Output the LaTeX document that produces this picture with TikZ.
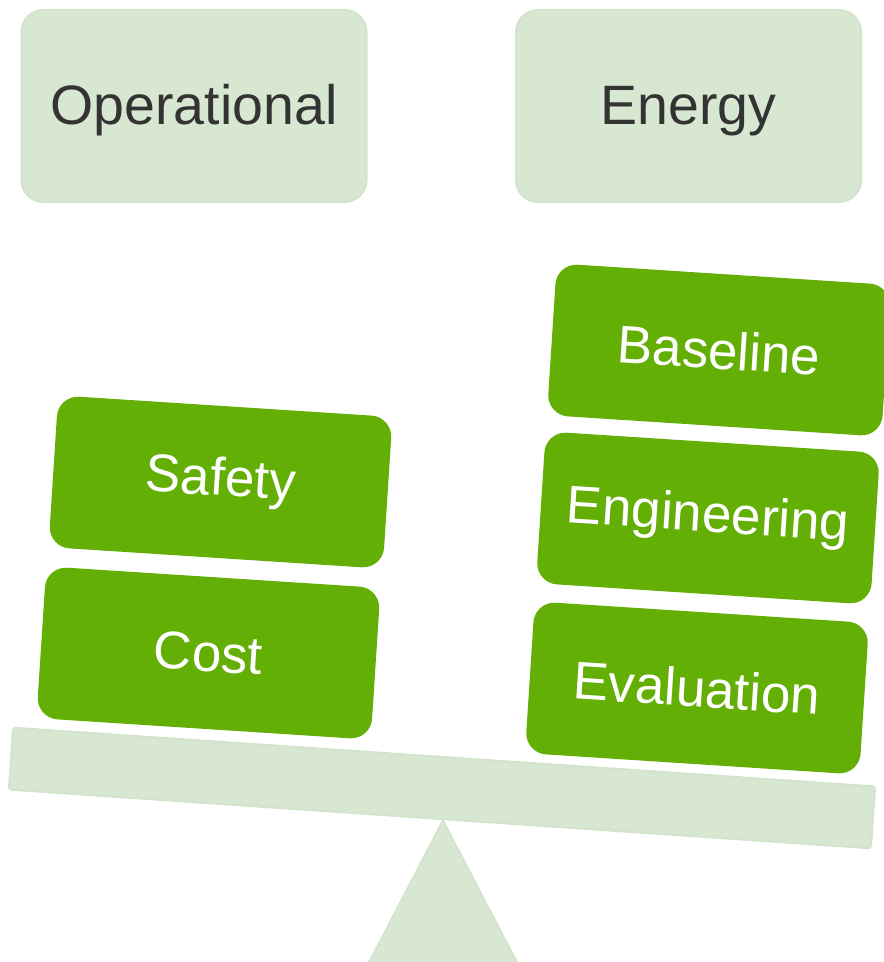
\documentclass[tikz,border=0pt]{standalone}
\usepackage{fontspec}
\setmainfont{Liberation Sans}
\definecolor{palegreen}{HTML}{D7E7D2}
\definecolor{paleedge}{HTML}{D2E4CB}
\definecolor{leafgreen}{HTML}{64AF06}
\definecolor{darktext}{HTML}{333333}
\begin{document}
\begin{tikzpicture}[x=1pt,y=1pt,
  topbox/.style={draw=paleedge,line width=2pt,fill=palegreen,rounded corners=22pt,
    minimum width=345pt,minimum height=192pt,inner sep=0pt,text=darktext,
    text height=40pt,text depth=4pt,
    font=\fontsize{55.5}{62}\selectfont},
  weight/.style={fill=leafgreen,rounded corners=21pt,minimum width=335pt,
    minimum height=152pt,inner sep=0pt,text=white,rotate=-3.7,
    font=\fontsize{53}{60}\selectfont},
  beamstyle/.style={draw=paleedge,line width=2pt,fill=palegreen,rounded corners=3pt,
    minimum width=864pt,minimum height=62pt,inner sep=0pt,rotate=-3.9}]
\useasboundingbox (0,0) rectangle (884,-962);
% top labels
\node[topbox] (oper) at (194,-106) {Operational};
\node[topbox] (ener) at (688.5,-106) {Energy};
% fulcrum
\coordinate (apex) at (443,-820);
\coordinate (bl) at (369,-962);
\coordinate (br) at (517,-962);
\fill[palegreen] (apex) -- (br) -- (bl) -- cycle;
\draw[paleedge,line width=1.5pt] (bl) -- (apex) -- (br);
% beam
\node[beamstyle] (beam) at (442,-788) {};
% left weights
\node[weight] (safety) at (220.5,-482) {Safety};
\node[weight] (cost) at (208.5,-653) {Cost};
% right weights
\node[weight] (baseline) at (719,-350) {Baseline};
\node[weight] (engineering) at (708,-518) {Engineering};
\node[weight] (evaluation) at (697,-688) {Evaluation};
\end{tikzpicture}
\end{document}
